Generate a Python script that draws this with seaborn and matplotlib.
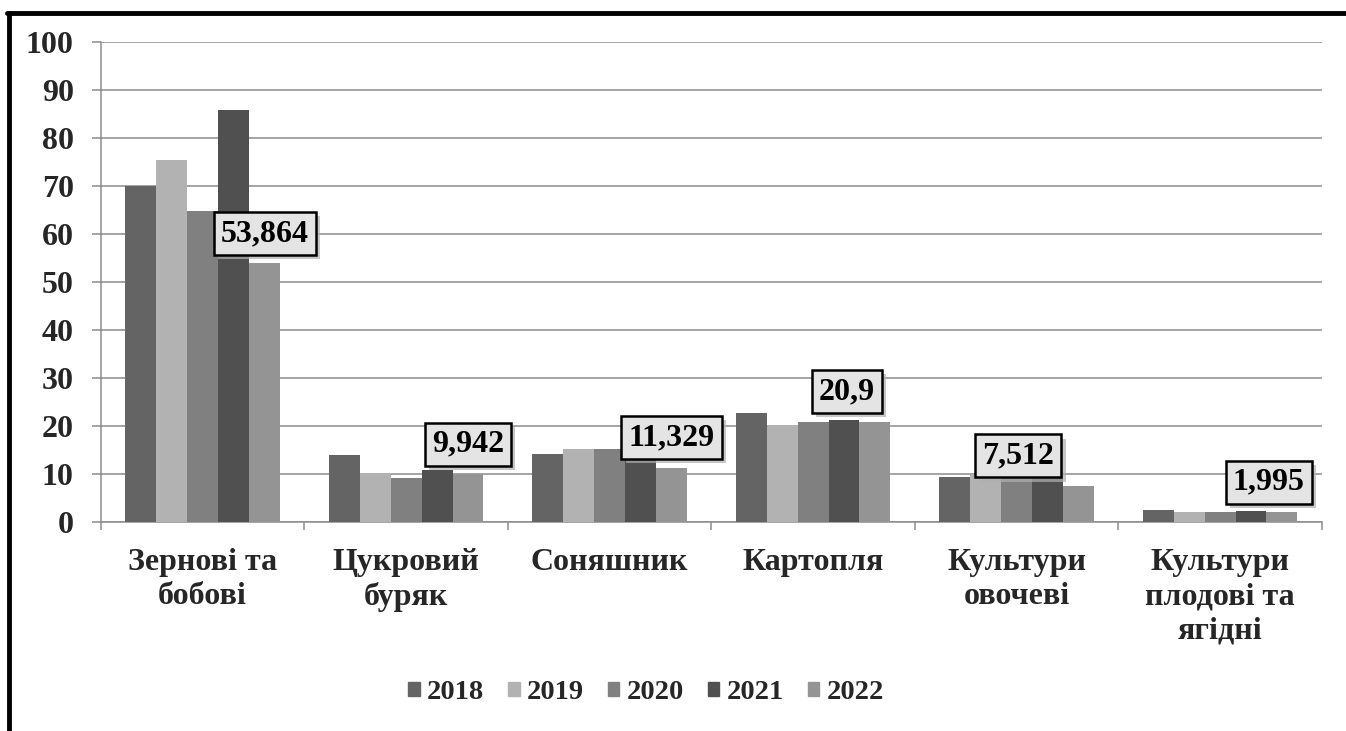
import numpy as np
import pandas as pd
import matplotlib
matplotlib.use("Agg")
import matplotlib.pyplot as plt
import seaborn as sns
from matplotlib.lines import Line2D
import matplotlib.patheffects as pe

# === Data ===
categories = ["Зернові та\nбобові", "Цукровий\nбуряк", "Соняшник",
              "Картопля", "Культури\nовочеві", "Культури\nплодові та\nягідні"]
years = ["2018", "2019", "2020", "2021", "2022"]
v2018 = [70.0, 14.0, 14.2, 22.6, 9.4, 2.5]
v2019 = [75.4, 10.3, 15.2, 20.3, 9.7, 2.1]
v2020 = [64.8, 9.2, 15.2, 20.8, 9.7, 2.1]
v2021 = [85.8, 10.8, 14.8, 21.3, 9.8, 2.3]
v2022 = [53.864, 9.942, 11.329, 20.9, 7.512, 1.995]
label_text = ["53,864", "9,942", "11,329", "20,9", "7,512", "1,995"]
label_dx = [0, 0, 0, -28, -60, -13]  # manual shifts of the callouts (pixels)

colors = ["#646464", "#b2b2b2", "#808080", "#505050", "#949494"]

rows = []
for y, vals in zip(years, [v2018, v2019, v2020, v2021, v2022]):
    for c, v in zip(categories, vals):
        rows.append({"Category": c, "Year": y, "Value": v})
df = pd.DataFrame(rows)

sns.set_style("white")
plt.rcParams["font.family"] = ["Liberation Serif", "DejaVu Serif"]
plt.rcParams["font.weight"] = "bold"

grid_c = "#8c8c8c"
fs = 23

fig = plt.figure(figsize=(13.46, 7.31), dpi=100)
ax = fig.add_axes([0.075, 0.286, 0.907, 0.6565])

sns.barplot(data=df, x="Category", y="Value", hue="Year", order=categories,
            hue_order=years, palette=colors, width=0.76, gap=0,
            linewidth=0, saturation=1, ax=ax, legend=True, zorder=3)

ax.set_ylim(0, 100)
ax.set_xlim(-0.5, len(categories) - 0.5)
ax.set_yticks(np.arange(0, 101, 10))
ax.set_xlabel("")
ax.set_ylabel("")
ax.grid(axis="y", color=grid_c, lw=1.1, zorder=0)
ax.set_axisbelow(True)

for s in ["top", "right"]:
    ax.spines[s].set_visible(False)
for s in ["left", "bottom"]:
    ax.spines[s].set_color(grid_c)
    ax.spines[s].set_linewidth(1.1)

ax.tick_params(axis="y", length=6.5, width=1.1, color=grid_c, pad=13,
               labelsize=fs, left=True)
ax.tick_params(axis="x", which="major", length=0, pad=19, labelsize=fs)
ax.set_xticks(np.arange(-0.5, len(categories), 1), minor=True)
ax.tick_params(axis="x", which="minor", length=6, width=1.1, color=grid_c,
               bottom=True)
for t in ax.get_yticklabels() + ax.get_xticklabels():
    t.set_fontweight("bold")
for t in ax.get_xticklabels():
    t.set_linespacing(1.22)

# callouts above the 2022 bars
bars_2022 = ax.containers[4]
for bar, txt, dx in zip(bars_2022, label_text, label_dx):
    x = bar.get_x() + bar.get_width() / 2
    y = bar.get_height()
    a = ax.annotate(txt, (x, y), xytext=(dx, 30), textcoords="offset pixels",
                    ha="center", va="center", fontsize=fs, fontweight="bold",
                    color="black", zorder=5,
                    bbox=dict(boxstyle="square,pad=0.22", fc="#e4e4e4",
                              ec="black", lw=1.8))
    a.get_bbox_patch().set_path_effects([
        pe.SimplePatchShadow(offset=(3, -3), shadow_rgbFace="#b0b0b0", alpha=0.7),
        pe.Normal()])

# legend
ax.legend_.remove()
handles = [plt.Rectangle((0, 0), 1, 1, color=c) for c in colors]
fig.legend(handles, years, loc="center", bbox_to_anchor=(0.48, 0.052),
           ncol=5, frameon=False, prop={"size": 20.5, "weight": "bold"},
           handlelength=0.4, handleheight=0.4, handletextpad=0.25,
           columnspacing=0.85)

# outer frame (left and top edges visible)
fig.add_artist(Line2D([0.0068, 0.0068], [-0.05, 0.982], color="black",
                      lw=3.5, transform=fig.transFigure))
fig.add_artist(Line2D([0.0055, 1.05], [0.982, 0.982], color="black",
                      lw=3.5, transform=fig.transFigure))

fig.savefig("out.png", dpi=100, facecolor="white")
